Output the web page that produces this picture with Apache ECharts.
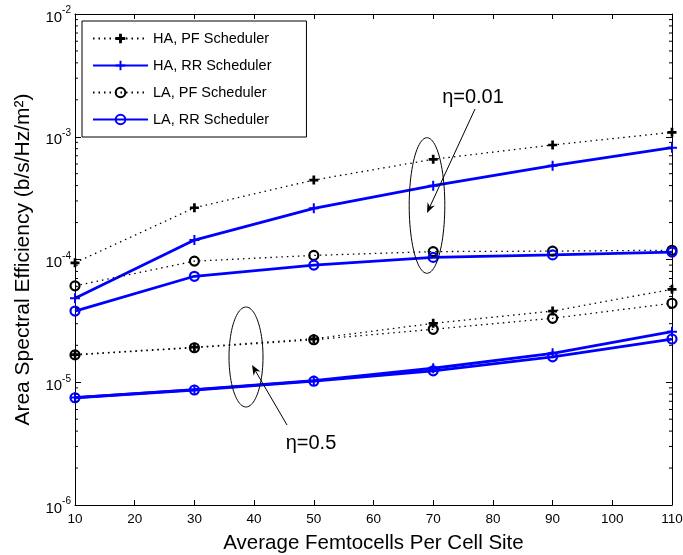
<!DOCTYPE html>
<html>
<head>
<meta charset="utf-8">
<script src="https://cdn.jsdelivr.net/npm/echarts@6/dist/echarts.min.js"></script>
<style>html,body{margin:0;padding:0;background:#fff}#main{width:683px;height:555px}</style>
</head>
<body>
<div id="main"></div>
<script>
// x: average femtocells per cell site
var femtocells = [10, 30, 50, 70, 90, 110];
// eta = 0.01
var haPf001 = [9.4e-5, 2.64e-4, 4.44e-4, 6.55e-4, 8.57e-4, 1.087e-3];
var haRr001 = [4.83e-5, 1.44e-4, 2.61e-4, 3.99e-4, 5.81e-4, 8.14e-4];
var laPf001 = [6.1e-5, 9.7e-5, 1.08e-4, 1.16e-4, 1.17e-4, 1.19e-4];
var laRr001 = [3.8e-5, 7.3e-5, 9.0e-5, 1.04e-4, 1.09e-4, 1.15e-4];
// eta = 0.5
var haPf05 = [1.68e-5, 1.93e-5, 2.26e-5, 3.02e-5, 3.8e-5, 5.72e-5];
var haRr05 = [7.5e-6, 8.7e-6, 1.03e-5, 1.30e-5, 1.72e-5, 2.58e-5];
var laPf05 = [1.67e-5, 1.91e-5, 2.22e-5, 2.70e-5, 3.32e-5, 4.40e-5];
var laRr05 = [7.48e-6, 8.65e-6, 1.02e-5, 1.24e-5, 1.61e-5, 2.25e-5];

var names = ['HA, PF Scheduler', 'HA, RR Scheduler', 'LA, PF Scheduler', 'LA, RR Scheduler'];
var decades = [1e-6, 1e-5, 1e-4, 1e-3];   // minor ticks 2..9 inside each

var FONT = '"Liberation Sans", Arial, Helvetica, sans-serif';
var BLUE = '#0000ff';
var plusBold = 'path://M3.5,0H6.5V3.5H10V6.5H6.5V10H3.5V6.5H0V3.5H3.5Z';
var plusThin = 'path://M4,0H6V4H10V6H6V10H4V6H0V4H4Z';

function pairs(vals) {
    return femtocells.map(function (x, i) { return [x, vals[i]]; });
}

function pfPlus(vals) {
    return { name: names[0], type: 'line', data: pairs(vals), symbol: plusBold, symbolSize: 9,
        itemStyle: { color: '#000' }, lineStyle: { color: '#000', width: 1.3, type: [1.5, 4] } };
}
function rrPlus(vals) {
    return { name: names[1], type: 'line', data: pairs(vals), symbol: plusThin, symbolSize: 10,
        itemStyle: { color: BLUE }, lineStyle: { color: BLUE, width: 2.8 } };
}
function pfCircle(vals) {
    return { name: names[2], type: 'line', data: pairs(vals), symbol: 'circle', symbolSize: 9,
        itemStyle: { color: 'rgba(0,0,0,0)', borderColor: '#000', borderWidth: 2.2 },
        lineStyle: { color: '#000', width: 1.3, type: [1.5, 4] } };
}
function rrCircle(vals) {
    return { name: names[3], type: 'line', data: pairs(vals), symbol: 'circle', symbolSize: 9,
        itemStyle: { color: 'rgba(0,0,0,0)', borderColor: BLUE, borderWidth: 2.2 },
        lineStyle: { color: BLUE, width: 2.8 } };
}

var xBase = {
    type: 'value', min: 10, max: 110, interval: 10,
    axisLine: { lineStyle: { color: '#000', width: 1 } },
    axisTick: { inside: true, length: 5, lineStyle: { color: '#000' } },
    splitLine: { show: false }
};
var yBase = {
    type: 'log', logBase: 10, min: 1e-6, max: 1e-2,
    axisLine: { lineStyle: { color: '#000', width: 1 } },
    axisTick: { inside: true, length: 6, lineStyle: { color: '#000' } },
    splitLine: { show: false }, minorTick: { show: false }
};

var myChart = echarts.init(document.getElementById('main'));
myChart.setOption({
    animation: false,
    backgroundColor: '#fff',
    textStyle: { fontFamily: FONT },
    grid: { left: 75, right: 11, top: 14, bottom: 50, outerBoundsMode: 'none' },
    legend: {
        data: names, orient: 'vertical', left: 82, top: 21,
        padding: [10, 35, 10, 10], itemGap: 12, itemWidth: 55, itemHeight: 12,
        borderColor: '#000', borderWidth: 1, backgroundColor: '#fff',
        textStyle: { fontSize: 14.5, color: '#000', fontFamily: FONT }
    },
    xAxis: [
        Object.assign({}, xBase, {
            position: 'bottom',
            axisLabel: { fontSize: 13.5, color: '#000', margin: 7, fontFamily: FONT },
            name: 'Average Femtocells Per Cell Site', nameLocation: 'middle', nameGap: 28,
            nameTextStyle: { fontSize: 20.5, color: '#000', fontFamily: FONT }
        }),
        Object.assign({}, xBase, { position: 'top', axisLabel: { show: false } })
    ],
    yAxis: [
        Object.assign({}, yBase, {
            position: 'left',
            axisLabel: {
                margin: 4, fontFamily: FONT,
                formatter: function (v) {
                    return '{b|10}{s|' + Math.round(Math.log10(v)) + '}';
                },
                rich: {
                    b: { fontSize: 15, color: '#000', fontFamily: FONT, padding: [7, 0, 0, 0] },
                    s: { fontSize: 10, color: '#000', fontFamily: FONT, padding: [0, 0, 7, 0] }
                }
            },
            name: 'Area Spectral Efficiency (b/s/Hz/m²)', nameLocation: 'middle', nameGap: 41,
            nameTextStyle: { fontSize: 21, color: '#000', fontFamily: FONT }
        }),
        Object.assign({}, yBase, { position: 'right', axisLabel: { show: false } })
    ],
    series: [
        pfPlus(haPf001), rrPlus(haRr001), pfCircle(laPf001), rrCircle(laRr001),
        pfPlus(haPf05), rrPlus(haRr05), pfCircle(laPf05), rrCircle(laRr05)
    ]
});

// minor log ticks and the two annotations
var gfx = [];
var xl = myChart.convertToPixel({ xAxisIndex: 0 }, 10);
var xr = myChart.convertToPixel({ xAxisIndex: 0 }, 110);
decades.forEach(function (d) {
    for (var m = 2; m <= 9; m++) {
        var y = myChart.convertToPixel({ yAxisIndex: 0 }, m * d);
        gfx.push({ type: 'line', silent: true, z: 50, shape: { x1: xl, y1: y, x2: xl + 3, y2: y }, style: { stroke: '#000', lineWidth: 1 } });
        gfx.push({ type: 'line', silent: true, z: 50, shape: { x1: xr, y1: y, x2: xr - 3, y2: y }, style: { stroke: '#000', lineWidth: 1 } });
    }
});

function ellipse(cx, cy, rx, ry) {
    var pts = [];
    for (var i = 0; i < 90; i++) {
        var t = i / 90 * Math.PI * 2;
        pts.push([cx + rx * Math.cos(t), cy + ry * Math.sin(t)]);
    }
    return { type: 'polygon', silent: true, z: 60, shape: { points: pts }, style: { fill: 'none', stroke: '#000', lineWidth: 1 } };
}
function arrow(x1, y1, x2, y2) {
    var dx = x2 - x1, dy = y2 - y1, L = Math.sqrt(dx * dx + dy * dy);
    var ux = dx / L, uy = dy / L, nx = -uy, ny = ux;
    var hl = 10, hw = 4;
    gfx.push({ type: 'line', silent: true, z: 60, shape: { x1: x1, y1: y1, x2: x2 - ux * 6, y2: y2 - uy * 6 }, style: { stroke: '#000', lineWidth: 1 } });
    gfx.push({ type: 'polygon', silent: true, z: 60, shape: { points: [
        [x2, y2],
        [x2 - ux * hl + nx * hw, y2 - uy * hl + ny * hw],
        [x2 - ux * 7, y2 - uy * 7],
        [x2 - ux * hl - nx * hw, y2 - uy * hl - ny * hw]
    ] }, style: { fill: '#000' } });
}
function label(x, y, txt) {
    gfx.push({ type: 'text', silent: true, z: 60, x: x, y: y,
        style: { text: txt, fontSize: 20, fontFamily: FONT, fill: '#000', align: 'center', verticalAlign: 'middle' } });
}

gfx.push(ellipse(427, 205.5, 17.8, 67.8));
arrow(475, 109, 427, 213);
label(473, 97, 'η=0.01');
gfx.push(ellipse(246, 357, 17, 50));
arrow(287, 425, 252, 365);
label(311, 443, 'η=0.5');

myChart.setOption({ graphic: gfx });
</script>
</body>
</html>
